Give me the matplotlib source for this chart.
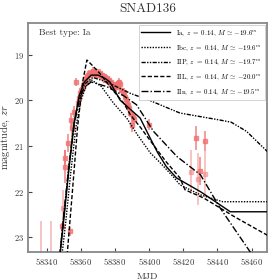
import matplotlib
matplotlib.use("Agg")
import matplotlib.pyplot as plt

# Fuente tipo LaTeX (Computer Modern incluida en matplotlib)
plt.rcParams['font.family'] = 'serif'
plt.rcParams['font.serif'] = ['cmr10']
plt.rcParams['mathtext.fontset'] = 'cm'
plt.rcParams['axes.formatter.use_mathtext'] = True
plt.rcParams['axes.unicode_minus'] = False

# Observaciones zr (puntos principales)
mjd_obs = [58348.8, 58350.6, 58350.7, 58352.7, 58353.7, 58354.1, 58355.0, 58356.2,
           58357.3, 58358.0, 58358.8, 58359.5, 58360.3, 58361.0, 58361.6, 58362.3,
           58363.0, 58363.7, 58364.4, 58365.0, 58365.7, 58366.3, 58367.0, 58367.6,
           58368.3, 58369.0, 58369.6, 58370.3, 58371.0, 58371.6, 58372.3, 58373.0,
           58373.6, 58374.3, 58375.0, 58375.7, 58376.4, 58377.0, 58377.7, 58378.4,
           58379.0, 58379.7, 58380.4, 58381.0, 58381.7, 58382.4, 58383.0, 58383.7,
           58384.4, 58385.0, 58385.7, 58386.4, 58387.0, 58387.7, 58388.4, 58389.0,
           58389.8, 58390.5, 58391.2, 58399.6, 58427.6, 58429.5, 58432.4]
mag_obs = [22.76, 21.26, 21.45, 20.94, 22.87, 20.43, 20.60, 20.25,
           19.60, 20.05, 19.95, 19.84, 19.78, 19.70, 19.62, 19.60,
           19.52, 19.48, 19.45, 19.40, 19.43, 19.38, 19.35, 19.42,
           19.40, 19.36, 19.45, 19.42, 19.40, 19.48, 19.45, 19.50,
           19.47, 19.55, 19.52, 19.58, 19.55, 19.62, 19.60, 19.66,
           19.70, 19.65, 19.72, 19.68, 19.62, 19.60, 19.65, 19.78,
           19.85, 19.82, 19.92, 19.98, 20.05, 20.10, 20.18, 20.28,
           20.54, 20.35, 20.42, 20.54, 20.83, 21.55, 20.90]
err_obs = [0.08, 0.18, 0.36, 0.20, 0.10, 0.15, 0.20, 0.12,
           0.08, 0.10, 0.08, 0.07, 0.06, 0.06, 0.05, 0.06,
           0.05, 0.06, 0.05, 0.07, 0.05, 0.06, 0.08, 0.05,
           0.06, 0.07, 0.05, 0.06, 0.08, 0.05, 0.06, 0.07,
           0.05, 0.06, 0.07, 0.05, 0.06, 0.08, 0.06, 0.07,
           0.06, 0.05, 0.08, 0.06, 0.07, 0.08, 0.09, 0.07,
           0.06, 0.08, 0.07, 0.06, 0.08, 0.07, 0.09, 0.08,
           0.15, 0.10, 0.12, 0.12, 0.26, 0.30, 0.22]

# Observaciones con mayor incertidumbre (más claras)
mjd_debil = [58336.8, 58342.7, 58349.7, 58424.5, 58428.6, 58432.4]
mag_debil = [23.60, 23.60, 22.36, 21.57, 21.73, 21.61]
err_debil = [0.95, 0.95, 0.40, 0.49, 0.57, 0.50]

# Curvas de los modelos
mjd_ia = [58346, 58350, 58353, 58356, 58359, 58362, 58366, 58370, 58374, 58377, 58383,
          58389, 58394.7, 58400.6, 58405, 58410, 58416, 58423, 58430, 58440, 58447.5, 58470]
mag_ia = [24.0, 22.6, 21.5, 20.5, 19.9, 19.6, 19.45, 19.45, 19.52, 19.6, 20.0,
          20.2, 20.39, 20.83, 21.15, 21.45, 21.70, 21.85, 22.0, 22.25, 22.44, 22.44]

mjd_ibc = [58347, 58351, 58354, 58357, 58360, 58363, 58366, 58372, 58379, 58387, 58393,
           58400.6, 58406, 58414, 58418, 58430, 58443, 58470]
mag_ibc = [24.0, 22.7, 21.6, 20.6, 20.0, 19.7, 19.55, 19.7, 20.06, 20.4, 20.75,
           21.15, 21.35, 21.67, 21.85, 22.07, 22.22, 22.22]

mjd_iip = [58346, 58350, 58353, 58356, 58359, 58362, 58367, 58375, 58389, 58400,
           58418, 58441, 58448, 58457, 58470]
mag_iip = [24.0, 22.5, 21.4, 20.5, 19.95, 19.65, 19.5, 19.6, 19.85, 20.0,
           20.28, 20.43, 20.48, 20.68, 21.15]

mjd_iil = [58351, 58355, 58358, 58361, 58363.5, 58367, 58371, 58378, 58385, 58389,
           58395, 58402.5, 58410, 58418, 58421, 58432, 58450, 58470]
mag_iil = [23.8, 22.0, 20.6, 19.6, 19.12, 19.25, 19.41, 19.75, 20.06, 20.32,
           20.6, 20.98, 21.35, 21.70, 21.96, 22.14, 22.55, 22.97]

mjd_iin = [58346, 58350, 58353, 58356, 58359, 58362, 58366, 58375, 58385, 58392.6,
           58402.5, 58416.2, 58430, 58441.6, 58459, 58463]
mag_iin = [24.0, 22.5, 21.45, 20.55, 20.0, 19.72, 19.6, 19.7, 19.9, 20.10,
           20.68, 21.23, 21.63, 22.36, 23.31, 23.6]

etiquetas = [r'Ia, $z\;=\;0.14$, $M\,\simeq\,{-19.6}^m$',
             r'Ibc, $z\;=\;0.14$, $M\,\simeq\,{-19.6}^m$',
             r'IIP, $z\;=\;0.14$, $M\,\simeq\,{-19.7}^m$',
             r'IIL, $z\;=\;0.14$, $M\,\simeq\,{-20.0}^m$',
             r'IIn, $z\;=\;0.14$, $M\,\simeq\,{-19.5}^m$']

fig = plt.figure(figsize=(2.8, 2.8), dpi=100)
ax = fig.add_axes([28/280, 1 - 252/280, (267 - 28)/280, (252 - 23)/280])

# Puntos observados
ax.errorbar(mjd_debil, mag_debil, yerr=err_debil, fmt='s', ms=2.2, color='#f08080',
            alpha=0.5, elinewidth=1.3, capsize=0, zorder=2)
ax.errorbar(mjd_obs, mag_obs, yerr=err_obs, fmt='s', ms=2.2, color='#f07070',
            alpha=0.75, elinewidth=1.3, capsize=0, zorder=2)

# Modelos
ax.plot(mjd_ia, mag_ia, color='black', lw=1.0, ls='-', label=etiquetas[0], zorder=3)
ax.plot(mjd_ibc, mag_ibc, color='black', lw=1.0, ls=(0, (1, 1)), label=etiquetas[1], zorder=3)
ax.plot(mjd_iip, mag_iip, color='black', lw=1.0, ls=(0, (3, 1, 1, 1, 1, 1)), label=etiquetas[2], zorder=3)
ax.plot(mjd_iil, mag_iil, color='black', lw=1.0, ls=(0, (3, 1.5)), label=etiquetas[3], zorder=3)
ax.plot(mjd_iin, mag_iin, color='black', lw=1.0, ls=(0, (5, 1.5, 1, 1.5)), label=etiquetas[4], zorder=3)

ax.set_xlim(58329, 58469)
ax.set_ylim(23.32, 18.31)
ax.set_xticks([58340, 58360, 58380, 58400, 58420, 58440, 58460])
ax.set_yticks([19, 20, 21, 22, 23])
ax.tick_params(direction='in', length=3, width=0.8, labelsize=6.2, colors='#444444',
               labelcolor='#333333', pad=3)

for lado in ax.spines.values():
    lado.set_color('#888888')
    lado.set_linewidth(1.3)

ax.set_xlabel('MJD', fontsize=7, color='#333333', labelpad=4)
ax.set_ylabel(r'magnitude, $zr$', fontsize=7.5, color='#333333', labelpad=1)
ax.set_title('SNAD136', fontsize=9.5, color='#333333', pad=8)

ax.text(0.046, 0.975, 'Best type: Ia', transform=ax.transAxes, fontsize=6.6,
        color='#333333', va='top', ha='left')

leg = ax.legend(loc='upper right', fontsize=5, handlelength=4.2, labelspacing=0.75,
                borderaxespad=0.35, fancybox=False, framealpha=1, edgecolor='#cccccc')
leg.get_frame().set_linewidth(0.6)

fig.savefig('out.png', dpi=100)
